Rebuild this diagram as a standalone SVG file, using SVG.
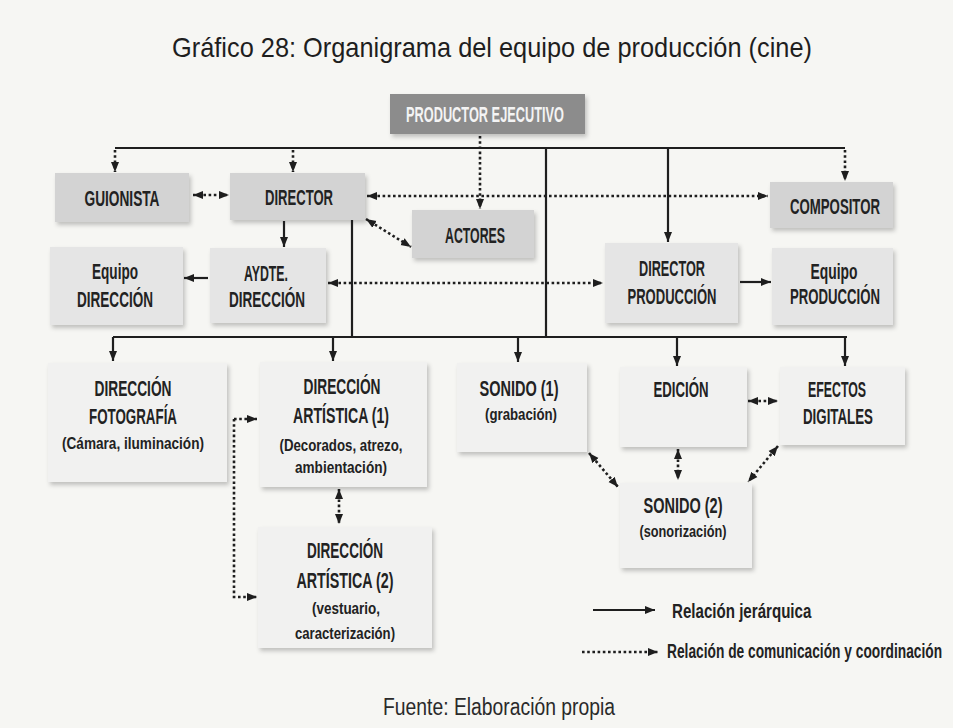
<svg xmlns="http://www.w3.org/2000/svg" width="953" height="728" viewBox="0 0 953 728">
<defs>
<style>
.bg{fill:#f6f6f3}
.title{font-family:"Liberation Sans",Arial,sans-serif;font-size:28px;fill:#1e1e1e}
.foot{font-family:"Liberation Sans",Arial,sans-serif;font-size:23px;fill:#2a2a2a}
.t{font-family:"Liberation Sans",Arial,sans-serif;font-weight:bold;font-size:22px;fill:#222;text-anchor:middle}
.s{font-family:"Liberation Sans",Arial,sans-serif;font-weight:bold;font-size:17px;fill:#222;text-anchor:middle}
.w{fill:#f4f4f4}
.lg{font-family:"Liberation Sans",Arial,sans-serif;font-weight:bold;font-size:21px;fill:#222}
.b0{fill:#8c8c8c;filter:url(#sh)}
.b1{fill:#d3d3d3;filter:url(#sh)}
.b2{fill:#e5e5e5;filter:url(#sh)}
.b3{fill:#f1f1f0;filter:url(#sh)}
.h{fill:none;stroke:#1e1e1e;stroke-width:2.2}
.d{fill:none;stroke:#1e1e1e;stroke-width:2.6;stroke-dasharray:2.6 2.6}
</style>
<filter id="sh" x="-10%" y="-10%" width="125%" height="130%">
<feDropShadow dx="2" dy="3" stdDeviation="2" flood-color="#000" flood-opacity="0.22"/>
</filter>
<marker id="ah" viewBox="0 0 10 10" refX="10" refY="5" markerWidth="10" markerHeight="10" markerUnits="userSpaceOnUse" orient="auto-start-reverse">
<path d="M0,1 L10,5 L0,9 z" fill="#1e1e1e"/>
</marker>
</defs>
<rect class="bg" x="0" y="0" width="953" height="728"/>
<text class="title" x="172" y="57" textLength="640" lengthAdjust="spacingAndGlyphs">Gráfico 28: Organigrama del equipo de producción (cine)</text>

<g id="productor-ejecutivo"><rect class="b0" x="390" y="94" width="195" height="40"/><text class="t w" x="485" y="122" textLength="158" lengthAdjust="spacingAndGlyphs">PRODUCTOR EJECUTIVO</text></g>
<g id="guionista"><rect class="b1" x="55" y="173" width="134" height="49"/><text class="t" x="122" y="206" textLength="75" lengthAdjust="spacingAndGlyphs">GUIONISTA</text></g>
<g id="director"><rect class="b1" x="230" y="173" width="135" height="47"/><text class="t" x="299" y="205" textLength="68" lengthAdjust="spacingAndGlyphs">DIRECTOR</text></g>
<g id="actores"><rect class="b1" x="412" y="210" width="122" height="48"/><text class="t" x="475" y="243" textLength="60" lengthAdjust="spacingAndGlyphs">ACTORES</text></g>
<g id="compositor"><rect class="b1" x="770" y="182" width="123" height="46"/><text class="t" x="835" y="214" textLength="90" lengthAdjust="spacingAndGlyphs">COMPOSITOR</text></g>

<g id="equipo-direccion"><rect class="b2" x="50" y="247" width="133" height="78"/><text class="t" x="115" y="279" textLength="46" lengthAdjust="spacingAndGlyphs">Equipo</text><text class="t" x="115" y="307" textLength="76" lengthAdjust="spacingAndGlyphs">DIRECCIÓN</text></g>
<g id="aydte-direccion"><rect class="b2" x="210" y="248" width="116" height="75"/><text class="t" x="266" y="281" textLength="44" lengthAdjust="spacingAndGlyphs">AYDTE.</text><text class="t" x="267" y="307" textLength="76" lengthAdjust="spacingAndGlyphs">DIRECCIÓN</text></g>
<g id="director-produccion"><rect class="b2" x="605" y="243" width="133" height="80"/><text class="t" x="672" y="276" textLength="66" lengthAdjust="spacingAndGlyphs">DIRECTOR</text><text class="t" x="672" y="304" textLength="89" lengthAdjust="spacingAndGlyphs">PRODUCCIÓN</text></g>
<g id="equipo-produccion"><rect class="b2" x="772" y="248" width="121" height="77"/><text class="t" x="834" y="279" textLength="47" lengthAdjust="spacingAndGlyphs">Equipo</text><text class="t" x="835" y="304" textLength="90" lengthAdjust="spacingAndGlyphs">PRODUCCIÓN</text></g>

<g id="direccion-fotografia"><rect class="b3" x="48" y="363" width="179" height="119"/><text class="t" x="133" y="396" textLength="77" lengthAdjust="spacingAndGlyphs">DIRECCIÓN</text><text class="t" x="133" y="424" textLength="88" lengthAdjust="spacingAndGlyphs">FOTOGRAFÍA</text><text class="s" x="133" y="449" textLength="142" lengthAdjust="spacingAndGlyphs">(Cámara, iluminación)</text></g>
<g id="direccion-artistica-1"><rect class="b3" x="260" y="362" width="167" height="125"/><text class="t" x="342" y="394" textLength="77" lengthAdjust="spacingAndGlyphs">DIRECCIÓN</text><text class="t" x="341" y="423" textLength="96" lengthAdjust="spacingAndGlyphs">ARTÍSTICA (1)</text><text class="s" x="341" y="451" textLength="123" lengthAdjust="spacingAndGlyphs">(Decorados, atrezo,</text><text class="s" x="341" y="473" textLength="92" lengthAdjust="spacingAndGlyphs">ambientación)</text></g>
<g id="direccion-artistica-2"><rect class="b3" x="258" y="527" width="174" height="121"/><text class="t" x="345" y="558" textLength="76" lengthAdjust="spacingAndGlyphs">DIRECCIÓN</text><text class="t" x="345" y="588" textLength="97" lengthAdjust="spacingAndGlyphs">ARTÍSTICA (2)</text><text class="s" x="346" y="614" textLength="68" lengthAdjust="spacingAndGlyphs">(vestuario,</text><text class="s" x="345" y="639" textLength="100" lengthAdjust="spacingAndGlyphs">caracterización)</text></g>
<g id="sonido-1"><rect class="b3" x="457" y="363" width="130" height="89"/><text class="t" x="519" y="396" textLength="79" lengthAdjust="spacingAndGlyphs">SONIDO (1)</text><text class="s" x="521" y="420" textLength="72" lengthAdjust="spacingAndGlyphs">(grabación)</text></g>
<g id="edicion"><rect class="b3" x="620" y="367" width="127" height="80"/><text class="t" x="681" y="397" textLength="55" lengthAdjust="spacingAndGlyphs">EDICIÓN</text></g>
<g id="efectos-digitales"><rect class="b3" x="780" y="367" width="125" height="78"/><text class="t" x="837" y="397" textLength="58" lengthAdjust="spacingAndGlyphs">EFECTOS</text><text class="t" x="838" y="424" textLength="70" lengthAdjust="spacingAndGlyphs">DIGITALES</text></g>
<g id="sonido-2"><rect class="b3" x="620" y="483" width="132" height="85"/><text class="t" x="683" y="513" textLength="79" lengthAdjust="spacingAndGlyphs">SONIDO (2)</text><text class="s" x="683" y="537" textLength="87" lengthAdjust="spacingAndGlyphs">(sonorización)</text></g>

<g id="connectors">
<path class="h" d="M115,148 H845"/>
<path class="h" d="M546,148 V337"/>
<path class="h" d="M668,148 V242" marker-end="url(#ah)"/>
<path class="h" d="M352,220 V337"/>
<path class="h" d="M113,337 H847"/>
<path class="h" d="M113,337 V361" marker-end="url(#ah)"/>
<path class="h" d="M333,337 V361" marker-end="url(#ah)"/>
<path class="h" d="M518,337 V362" marker-end="url(#ah)"/>
<path class="h" d="M677,337 V366" marker-end="url(#ah)"/>
<path class="h" d="M845,337 V366" marker-end="url(#ah)"/>
<path class="h" d="M284,221 V247" marker-end="url(#ah)"/>
<path class="h" d="M208,278 H184" marker-end="url(#ah)"/>
<path class="h" d="M740,282 H771" marker-end="url(#ah)"/>
<path class="d" d="M115,150 V172" marker-end="url(#ah)"/>
<path class="d" d="M293,150 V172" marker-end="url(#ah)"/>
<path class="d" d="M480,136 V209" marker-end="url(#ah)"/>
<path class="d" d="M845,150 V181" marker-end="url(#ah)"/>
<path class="d" d="M193,195 H229" marker-start="url(#ah)" marker-end="url(#ah)"/>
<path class="d" d="M367,196 H768" marker-start="url(#ah)" marker-end="url(#ah)"/>
<path class="d" d="M366,219 L411,247" marker-start="url(#ah)" marker-end="url(#ah)"/>
<path class="d" d="M328,283 H603" marker-start="url(#ah)" marker-end="url(#ah)"/>
<path class="d" d="M234,419 H257" marker-end="url(#ah)"/>
<path class="d" d="M234,419 V597 H257" marker-end="url(#ah)"/>
<path class="d" d="M339,489 V524" marker-start="url(#ah)" marker-end="url(#ah)"/>
<path class="d" d="M589,453 L618,487" marker-start="url(#ah)" marker-end="url(#ah)"/>
<path class="d" d="M678,449 V480" marker-start="url(#ah)" marker-end="url(#ah)"/>
<path class="d" d="M778,446 L748,482" marker-start="url(#ah)" marker-end="url(#ah)"/>
<path class="d" d="M748,401 H778" marker-start="url(#ah)" marker-end="url(#ah)"/>
</g>

<g id="legend">
<path class="h" d="M593,610 H655" marker-end="url(#ah)"/>
<text class="lg" transform="translate(672,618) scale(0.72,1)" x="0" y="0">Relación jerárquica</text>
<path class="d" d="M582,652 H658" marker-end="url(#ah)"/>
<text class="lg" transform="translate(667,658) scale(0.655,1)" x="0" y="0">Relación de comunicación y coordinación</text>
</g>

<text class="foot" x="383" y="715" textLength="232" lengthAdjust="spacingAndGlyphs">Fuente: Elaboración propia</text>
</svg>
